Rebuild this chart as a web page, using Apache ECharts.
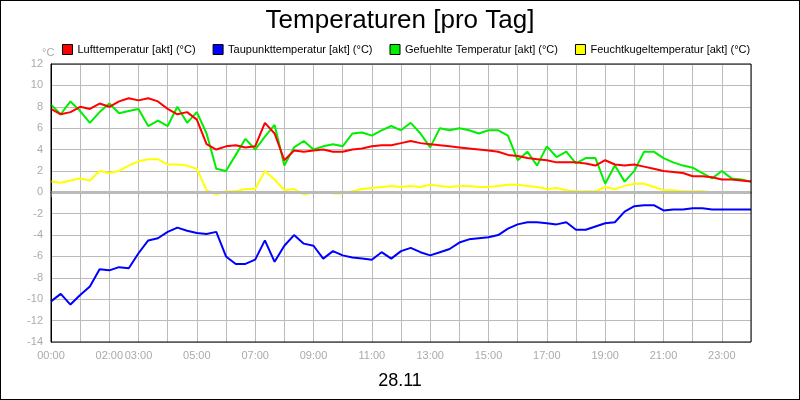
<!DOCTYPE html>
<html>
<head>
<meta charset="utf-8">
<script src="https://cdn.jsdelivr.net/npm/echarts@6/dist/echarts.min.js"></script>
<style>
html, body { margin: 0; padding: 0; background: #fff; }
#chart { width: 798px; height: 398px; border: 1px solid #000; }
</style>
</head>
<body>
<div id="chart"></div>
<script>
// Messwerte alle 20 Minuten, Stunde 0..24
var hours = [];
for (var i = 0; i <= 72; i++) hours.push(i / 3);

var hourLabels = ["00:00", "02:00", "03:00", "05:00", "07:00", "09:00", "11:00", "13:00", "15:00", "17:00", "19:00", "21:00", "23:00"];

var luft = [7.8, 7.3, 7.5, 8.0, 7.8, 8.3, 8.0, 8.5, 8.8, 8.6, 8.8, 8.5, 7.8, 7.3, 7.5, 6.8, 4.5, 4.0, 4.3, 4.4, 4.2, 4.3, 6.5, 5.5, 3.0,
    3.9, 3.8, 3.9, 4.0, 3.8, 3.8, 4.0, 4.1, 4.3, 4.4, 4.4, 4.6, 4.8, 4.6, 4.5, 4.4, 4.3, 4.2, 4.1, 4.0, 3.9, 3.8, 3.5, 3.4,
    3.2, 3.1, 3.0, 2.8, 2.8, 2.8, 2.7, 2.5, 3.0, 2.6, 2.5, 2.6, 2.4, 2.2, 2.0, 1.9, 1.8, 1.5, 1.5, 1.4, 1.2, 1.2, 1.1, 1.0];

var taupunkt = [-10.2, -9.5, -10.5, -9.6, -8.8, -7.2, -7.3, -7.0, -7.1, -5.7, -4.5, -4.3, -3.7, -3.3, -3.6, -3.8, -3.9, -3.7, -6.0, -6.7, -6.7, -6.3, -4.5, -6.5, -5.0,
    -4.0, -4.8, -5.0, -6.2, -5.5, -5.9, -6.1, -6.2, -6.3, -5.6, -6.2, -5.5, -5.2, -5.6, -5.9, -5.6, -5.3, -4.7, -4.4, -4.3, -4.2, -4.0, -3.4, -3.0,
    -2.8, -2.8, -2.9, -3.0, -2.8, -3.5, -3.5, -3.2, -2.9, -2.8, -1.8, -1.3, -1.2, -1.2, -1.7, -1.6, -1.6, -1.5, -1.5, -1.6, -1.6, -1.6, -1.6, -1.6];

var gefuehlt = [8.2, 7.3, 8.5, 7.6, 6.5, 7.5, 8.3, 7.4, 7.6, 7.8, 6.2, 6.7, 6.2, 8.0, 6.5, 7.5, 5.5, 2.2, 2.0, 3.5, 5.0, 4.0, 5.2, 6.3, 2.5,
    4.2, 4.8, 4.0, 4.3, 4.5, 4.3, 5.5, 5.6, 5.3, 5.8, 6.2, 5.8, 6.5, 5.5, 4.2, 6.0, 5.8, 6.0, 5.8, 5.5, 5.8, 5.8, 5.3, 3.0,
    3.8, 2.5, 4.3, 3.3, 3.8, 2.7, 3.2, 3.2, 0.8, 2.5, 1.0, 2.0, 3.8, 3.8, 3.2, 2.8, 2.5, 2.3, 1.8, 1.3, 2.0, 1.3, 1.2, 1.0];

var feucht = [1.0, 0.9, 1.1, 1.3, 1.1, 2.0, 1.8, 2.0, 2.5, 2.9, 3.1, 3.1, 2.6, 2.6, 2.5, 2.2, 0.2, -0.2, 0.1, 0.1, 0.3, 0.3, 2.0, 1.2, 0.2,
    0.3, -0.2, 0.0, 0.0, -0.1, -0.1, 0.1, 0.3, 0.4, 0.5, 0.6, 0.5, 0.6, 0.5, 0.7, 0.6, 0.5, 0.6, 0.6, 0.5, 0.5, 0.6, 0.7, 0.7,
    0.6, 0.5, 0.3, 0.4, 0.2, 0.1, 0.1, 0.1, 0.5, 0.3, 0.6, 0.8, 0.8, 0.5, 0.2, 0.2, 0.1, 0.1, 0.1, 0.0, -0.1, 0.0, 0.0, -0.1];

function pairs(vals) {
    return vals.map(function (v, i) { return [hours[i], v]; });
}

function line(name, color, vals, z) {
    return {
        name: name, type: "line", data: pairs(vals), symbol: "none", z: z,
        lineStyle: { color: color, width: 2 }, itemStyle: { color: color }
    };
}

var chart = echarts.init(document.getElementById("chart"));
chart.setOption({
    animation: false,
    textStyle: { fontFamily: "Liberation Sans" },
    title: [
        { text: "Temperaturen [pro Tag]", left: "center", top: 2, textStyle: { fontSize: 26, fontWeight: "normal", color: "#000" } },
        { text: "28.11", left: "center", top: 366, textStyle: { fontSize: 18, fontWeight: "normal", color: "#000" } },
        { text: "°C", left: 36, top: 41, textStyle: { fontSize: 11, fontWeight: "normal", color: "#aaa" } }
    ],
    legend: {
        top: 38, left: 56, itemWidth: 10, itemHeight: 10, itemGap: 17, icon: "rect",
        textStyle: { fontSize: 11, color: "#000" },
        itemStyle: { borderColor: "#000", borderWidth: 1 }
    },
    grid: { left: 50, right: 48, top: 63, bottom: 57 },
    xAxis: {
        type: "value", min: 0, max: 24, interval: 1,
        axisLine: { lineStyle: { color: "#000" } },
        axisTick: { show: true, length: 5, lineStyle: { color: "#aaa" } },
        splitLine: { lineStyle: { color: "#bbb" } },
        axisLabel: {
            color: "#aaa", fontSize: 11, showMaxLabel: false,
            formatter: function (v) {
                var s = (v < 10 ? "0" : "") + v + ":00";
                return hourLabels.indexOf(s) >= 0 ? s : "";
            }
        }
    },
    yAxis: {
        type: "value", min: -14, max: 12, interval: 2,
        axisLine: { show: true, lineStyle: { color: "#000" } },
        axisTick: { show: false },
        splitLine: { lineStyle: { color: "#bbb" } },
        axisLabel: { color: "#aaa", fontSize: 11 }
    },
    series: [
        line("Lufttemperatur [akt] (°C)", "#ff0000", luft, 5),
        Object.assign(line("Taupunkttemperatur [akt] (°C)", "#0000ff", taupunkt, 1), {
            markLine: { silent: true, symbol: "none", label: { show: false }, lineStyle: { color: "#bbb", width: 3, type: "solid" }, data: [{ yAxis: 0 }] }
        }),
        line("Gefuehlte Temperatur [akt] (°C)", "#00ee00", gefuehlt, 4),
        line("Feuchtkugeltemperatur [akt] (°C)", "#ffff00", feucht, 3)
    ]
});
// kastenrahmen um den plot
chart.setOption({
    graphic: [{
        type: "rect", silent: true, z: 100,
        shape: { x: 50, y: 63, width: 700, height: 278 },
        style: { fill: "none", stroke: "#000", lineWidth: 1 }
    }]
});
</script>
</body>
</html>
